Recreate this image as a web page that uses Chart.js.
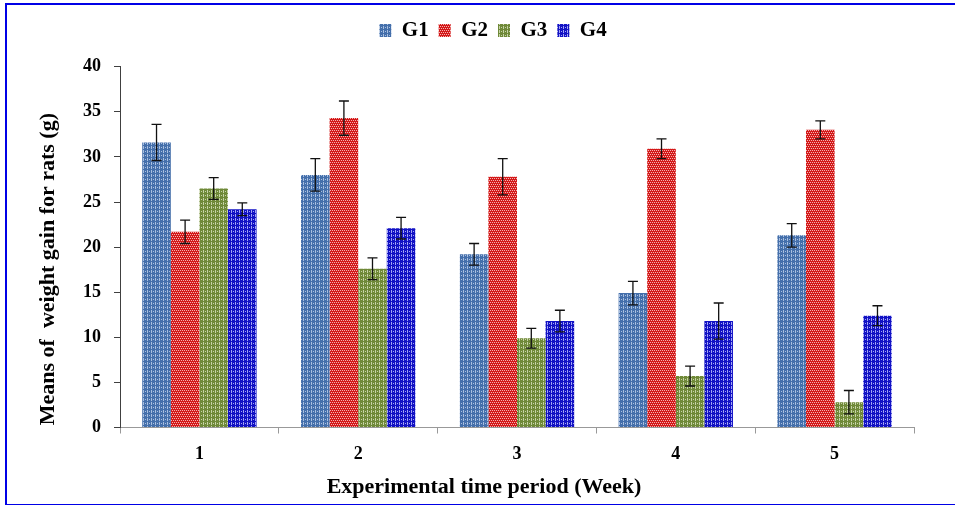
<!DOCTYPE html>
<html>
<head>
<meta charset="utf-8">
<script src="https://cdn.jsdelivr.net/npm/chart.js@4.4.1/dist/chart.umd.min.js"></script>
<style>
  html, body { margin: 0; padding: 0; background: #fff; overflow: hidden; }
  #frame { position: absolute; left: 5px; top: 3px; width: 1000px; height: 499px;
           border: 2px solid #0000e6; border-right: none; }
  #wrap { position: absolute; left: 0; top: 0; width: 955px; height: 505px; }
</style>
</head>
<body>
<div id="frame"></div>
<div id="wrap"><canvas id="myChart" width="955" height="505"></canvas></div>
<script>
// weeks on the x axis
const weeks = ['1', '2', '3', '4', '5'];
const groups = ['G1', 'G2', 'G3', 'G4'];

// mean weight gain (g) per group
const g1 = [31.6, 28.0, 19.2, 14.9, 21.3];
const g2 = [21.7, 34.3, 27.8, 30.9, 33.0];
const g3 = [26.5, 17.6, 9.9, 5.7, 2.8];
const g4 = [24.2, 22.1, 11.8, 11.8, 12.4];

// error bar half-lengths
const g1Err = [2.0, 1.8, 1.2, 1.3, 1.3];
const g2Err = [1.3, 1.9, 2.0, 1.1, 1.0];
const g3Err = [1.2, 1.2, 1.1, 1.1, 1.3];
const g4Err = [0.7, 1.2, 1.2, 2.0, 1.1];

const yTicks = [0, 5, 10, 15, 20, 25, 30, 35, 40];

// small tiled fill to mimic the dotted office patterns
function makePattern(base, light, cells) {
  const c = document.createElement('canvas');
  c.width = 4; c.height = 4;
  const x = c.getContext('2d');
  x.fillStyle = base;
  x.fillRect(0, 0, 4, 4);
  x.fillStyle = light;
  cells.forEach(function(p) { x.fillRect(p[0], p[1], 1, 1); });
  return x.createPattern(c, 'repeat');
}
const gridCells = [[3, 0], [3, 2], [1, 3], [3, 3]];
const checkCells = [[1, 0], [3, 0], [0, 2], [2, 2]];

const fills = [
  makePattern('#446fab', '#a9bfdf', gridCells),
  makePattern('#d41818', '#f2b4b4', checkCells),
  makePattern('#6f8938', '#c6d3a6', gridCells),
  makePattern('#1212c4', '#a4a4f4', gridCells)
];
const values = [g1, g2, g3, g4];
const errors = [g1Err, g2Err, g3Err, g4Err];

const errorBars = {
  id: 'errorBars',
  afterDatasetsDraw(chart) {
    const ctx = chart.ctx;
    const y = chart.scales.y;
    ctx.save();
    ctx.strokeStyle = '#111';
    ctx.lineWidth = 1.3;
    chart.data.datasets.forEach(function(ds, i) {
      const meta = chart.getDatasetMeta(i);
      meta.data.forEach(function(bar, j) {
        const v = ds.data[j], e = errors[i][j];
        const top = y.getPixelForValue(v + e);
        const bot = y.getPixelForValue(v - e);
        ctx.beginPath();
        ctx.moveTo(bar.x, top); ctx.lineTo(bar.x, bot);
        ctx.moveTo(bar.x - 5, top); ctx.lineTo(bar.x + 5, top);
        ctx.moveTo(bar.x - 5, bot); ctx.lineTo(bar.x + 5, bot);
        ctx.stroke();
      });
    });
    ctx.restore();
  }
};

// shift the legend right, the original is not centred on the canvas
const nudgeLegend = {
  id: 'nudgeLegend',
  afterLayout(chart) {
    chart.legend.left += 36;
    chart.legend.right += 36;
  }
};

const serif = 'Liberation Serif';

new Chart('myChart', {
  type: 'bar',
  data: {
    labels: weeks,
    datasets: groups.map(function(g, i) {
      return { label: g, data: values[i], backgroundColor: fills[i], borderWidth: 0,
               categoryPercentage: 0.72, barPercentage: 1.0 };
    })
  },
  options: {
    responsive: false,
    animation: false,
    layout: { padding: { left: 0, right: 41, top: 10, bottom: 0 } },
    plugins: {
      legend: {
        position: 'top',
        labels: { color: '#000', boxWidth: 12, boxHeight: 13, padding: 10,
                  font: { family: serif, size: 21, weight: 'bold' } }
      },
      // empty title used as a spacer between legend and plot
      title: { display: true, text: '', weight: 500, padding: { top: 0, bottom: 3.7 },
               font: { size: 10 } },
      tooltip: { enabled: false }
    },
    scales: {
      x: {
        grid: { drawOnChartArea: false, color: '#999', tickLength: 6 },
        border: { color: '#999', width: 1 },
        ticks: { color: '#000', padding: 10, font: { family: serif, size: 18, weight: 'bold' } },
        title: { display: true, text: 'Experimental time period (Week)' + '\u00a0'.repeat(12),
                 color: '#000', padding: { top: 0, bottom: 4 },
                 font: { family: serif, size: 22, weight: 'bold' } },
        afterFit: function(s) { s.height = 77.5; }
      },
      y: {
        min: 0, max: 40,
        afterBuildTicks: function(s) { s.ticks = yTicks.map(function(v) { return { value: v }; }); },
        grid: { drawOnChartArea: false, color: '#404040', tickLength: 6 },
        border: { color: '#404040', width: 1 },
        ticks: { color: '#000', padding: 13, font: { family: serif, size: 18, weight: 'bold' } },
        title: { display: true, text: 'Means of  weight gain for rats (g)' + '\u00a0'.repeat(8),
                 color: '#000', padding: { top: 35, bottom: 0 },
                 font: { family: serif, size: 22, weight: 'bold' } },
        afterFit: function(s) { s.width = 120; }
      }
    }
  },
  plugins: [errorBars, nudgeLegend]
});
</script>
</body>
</html>
